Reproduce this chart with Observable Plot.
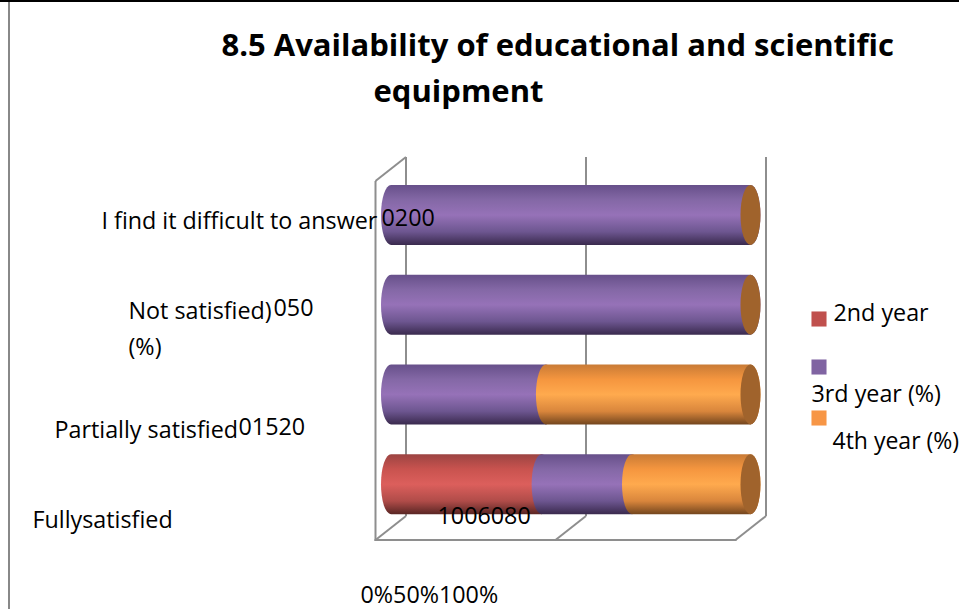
<!DOCTYPE html>
<html>
<head>
<meta charset="utf-8">
<script src="https://cdn.jsdelivr.net/npm/d3@7"></script>
<script src="https://cdn.jsdelivr.net/npm/@observablehq/plot@0.6"></script>
<style>
html,body{margin:0;padding:0;background:#fff;overflow:hidden}
svg{display:block}
svg text{font-variant-ligatures:none}
</style>
</head>
<body>
<div id="chart"></div>
<script>
const categories = ["I find it difficult to answer", "Not satisfied)", "Partially satisfied", "Fullysatisfied"];
const seriesNames = ["2nd year", "3rd year (%)", "4th year (%)"];
const year2 = [0, 0, 0, 100];
const year3 = [20, 5, 15, 60];
const year4 = [0, 0, 20, 80];
const ticks = [0, 0.5, 1];
const titleLines = ["8.5 Availability of educational and scientific", "equipment"];
const extraLabel = "(%)";

const legendColors = ["#C0504D", "#8064A2", "#F79646"];
const gradientStops = [
  ["#9C4442", "#C9534F", "#DC5F5C", "#B04C49", "#5A2624"],
  ["#67508A", "#8468A6", "#9672B8", "#6D5690", "#3A2A4E"],
  ["#C97B36", "#F5963F", "#FFAA4E", "#D9863C", "#74461E"]
];
const stopOffsets = ["0%", "25%", "50%", "78%", "100%"];

const FONT = "'Open Sans', sans-serif";
const BODY = 23.3;
const TITLE = 31;

// 100% stacked segments, row by row
const rows = categories.flatMap((category, i) => {
  const vals = [year2[i], year3[i], year4[i]];
  const total = d3.sum(vals);
  const lastIdx = d3.max(vals.map((v, s) => v > 0 ? s : -1));
  let acc = 0;
  return vals.map((value, s) => {
    const start = acc / total;
    acc += value;
    return {category, series: seriesNames[s], value, start, end: acc / total, last: s === lastIdx};
  }).filter(d => d.value > 0);
});
const dataLabels = categories.map((c, i) => `${year2[i]}${year3[i]}${year4[i]}`);

const defs = () => {
  const d = d3.create("svg:defs");
  gradientStops.forEach((stops, i) => {
    const g = d.append("linearGradient").attr("id", `cyl${i}`)
      .attr("x1", 0).attr("y1", 0).attr("x2", 0).attr("y2", 1);
    stops.forEach((c, j) => g.append("stop").attr("offset", stopOffsets[j]).attr("stop-color", c));
  });
  return d.node();
};

// Page rules and the 3D box of the chart (walls, floor, gridlines)
const frontX = d3.scaleLinear([0, 1], [375.5, 735.5]);
const frame = () => {
  const g = d3.create("svg:g").attr("fill", "none");
  const line = (x1, y1, x2, y2, stroke = "#8E8E8E", w = 2) =>
    g.append("line").attr("x1", x1).attr("y1", y1).attr("x2", x2).attr("y2", y2)
      .attr("stroke", stroke).attr("stroke-width", w);
  line(0, 1, 959, 1, "#000", 2);
  line(9, 2, 9, 609, "#888", 2);
  line(375.5, 181, 375.5, 541);
  line(375.5, 181, 406, 157);
  line(374.5, 540, 736.5, 540);
  ticks.forEach(t => {
    const fx = frontX(t);
    line(fx + 30.5, 157, fx + 30.5, 516);
    line(fx, 540, fx + 30.5, 516);
  });
  return g.node();
};

const text = (str, px, py, opts = {}) => Plot.text([str], {
  text: d => d, frameAnchor: "top-left", dx: px, dy: py,
  textAnchor: "start", lineAnchor: "middle", fontSize: BODY, fill: "#000", fontFamily: FONT, ...opts
});
const rowLabel = (i, str, px, dy) => Plot.text([categories[i]], {
  y: d => d, text: () => str, frameAnchor: "left", dx: px, dy,
  textAnchor: "start", lineAnchor: "middle", fontSize: BODY, fill: "#000", fontFamily: FONT
});
const legendSwatch = (i, px, py) => Plot.dot([seriesNames[i]], {
  frameAnchor: "top-left", dx: px, dy: py, symbol: "square", r: 8.5, fill: legendColors[i], stroke: "none"
});
const CAP = 10;
const segment = {x1: "start", x2: "end", y: "category", fill: "series", rx: CAP, ry: 30};

const chart = Plot.plot({
  width: 959, height: 609,
  marginTop: 0, marginRight: 0, marginBottom: 0, marginLeft: 0,
  style: {background: "#fff", fontFamily: FONT},
  x: {domain: [0, 1], range: [381, 742.5], axis: null},
  y: {type: "band", domain: categories, range: [170.1, 529.1], paddingInner: 1/3, paddingOuter: 1/6, round: false, axis: null},
  color: {domain: seriesNames, range: seriesNames.map((_, i) => `url(#cyl${i})`)},
  marks: [
    defs,
    frame,
    Plot.barX(rows.filter(d => !d.last), {...segment, insetRight: -2 * CAP}),
    Plot.barX(rows.filter(d => d.last), {...segment, insetRight: -18}),
    Plot.barX(categories, {x1: () => 1, x2: () => 1, y: d => d, insetLeft: -2, insetRight: -18, rx: CAP, ry: 30, fill: "#A0632C"}),

    text(titleLines[0], 221, 46, {fontWeight: 700, fontSize: TITLE}),
    text(titleLines[1], 373, 92, {fontWeight: 700, fontSize: TITLE}),

    rowLabel(0, categories[0], 101, 6),
    rowLabel(0, dataLabels[0], 381, 3),
    rowLabel(1, categories[1], 128, 6),
    rowLabel(1, dataLabels[1], 273, 3),
    text(extraLabel, 128, 347),
    rowLabel(2, categories[2], 54, 36),
    rowLabel(2, dataLabels[2], 238, 33),
    rowLabel(3, categories[3], 32, 36),
    rowLabel(3, dataLabels[3], 437, 32),

    text(ticks.map(d3.format(".0%")).join(""), 360, 595.5),

    legendSwatch(0, 818.5, 318.5),
    text(seriesNames[0], 833, 313),
    legendSwatch(1, 818.5, 366.5),
    text(seriesNames[1], 811, 394),
    legendSwatch(2, 818.5, 417.5),
    text(seriesNames[2], 832, 441, {fontSize: 23})
  ]
});
document.getElementById("chart").append(chart);
</script>
</body>
</html>
